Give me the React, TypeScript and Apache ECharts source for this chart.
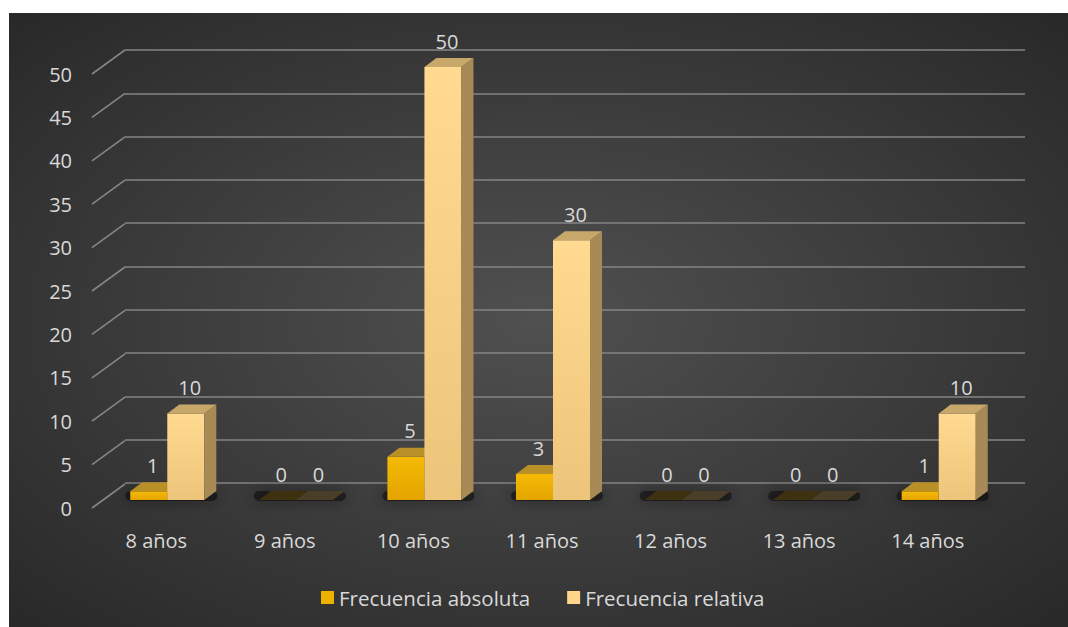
import React, { useEffect, useRef } from "react";
import * as echarts from "echarts";

const categories = ["8 años", "9 años", "10 años", "11 años", "12 años", "13 años", "14 años"];
const absoluta = [1, 0, 5, 3, 0, 0, 1];
const relativa = [10, 0, 50, 30, 0, 0, 10];
const yTicks = [0, 5, 10, 15, 20, 25, 30, 35, 40, 45, 50];
const seriesNames = ["Frecuencia absoluta", "Frecuencia relativa"];

const FONT = "'Open Sans', 'Noto Sans', sans-serif";
const TXT = "#d9d9d9";
const DEPTH_DX = 33;
const DEPTH_DY = 24;
const FRONT_DX = -22;
const FRONT_DY = 17;
const BAR_DX = 12;
const BAR_DY = 9;

function barRenderer(side: number, colors: any) {
  return (params: any, api: any) => {
    const i = api.value(0);
    const v = api.value(1);
    const base = api.coord([i, 0]);
    const top = api.coord([i, v]);
    const band = api.size([1, 0])[0];
    const bw = band * 0.288;
    const cx = base[0] + FRONT_DX;
    const x0 = side === 0 ? cx - bw : cx;
    const x1 = x0 + bw;
    const yb = base[1] + FRONT_DY;
    const yt = top[1] + FRONT_DY;
    const children: any[] = [];
    if (v === 0) {
      children.push({
        type: "polygon",
        shape: { points: [[x0, yb], [x1, yb], [x1 + BAR_DX, yb - BAR_DY], [x0 + BAR_DX, yb - BAR_DY]] },
        style: { fill: colors.zero },
      });
    } else {
      children.push({
        type: "rect",
        shape: { x: x0, y: yt, width: bw, height: yb - yt },
        style: {
          fill: new echarts.graphic.LinearGradient(0, 0, 0, 1, [
            { offset: 0, color: colors.frontTop },
            { offset: 1, color: colors.frontBottom },
          ]),
        },
      });
      children.push({
        type: "polygon",
        shape: { points: [[x1, yt], [x1 + BAR_DX, yt - BAR_DY], [x1 + BAR_DX, yb - BAR_DY], [x1, yb]] },
        style: { fill: colors.side },
      });
      children.push({
        type: "polygon",
        shape: { points: [[x0, yt], [x1, yt], [x1 + BAR_DX, yt - BAR_DY], [x0 + BAR_DX, yt - BAR_DY]] },
        style: { fill: colors.top },
      });
    }
    children.push({
      type: "text",
      x: (x0 + x1) / 2 + 4,
      y: yt - 26,
      style: {
        text: String(v),
        fill: TXT,
        font: `20px ${FONT}`,
        align: "center",
        verticalAlign: "middle",
      },
    });
    return { type: "group", children };
  };
}

export default function App() {
  const ref = useRef<HTMLDivElement>(null);
  useEffect(() => {
    if (!ref.current) return;
    const chart = echarts.init(ref.current, undefined, { renderer: "svg" });
    const absColors = { frontTop: "#F5BA05", frontBottom: "#E3A400", side: "#A67E10", top: "#B98F28", zero: "#3d3110" };
    const relColors = { frontTop: "#FFDA90", frontBottom: "#EDC57A", side: "#A88A56", top: "#C8A76B", zero: "#4b3e29" };
    chart.setOption({
      animation: false,
      textStyle: { fontFamily: FONT },
      graphic: {
        elements: [
          {
            type: "rect",
            z: -100,
            silent: true,
            shape: { x: 9, y: 13, width: 1059, height: 614 },
            style: {
              fill: new echarts.graphic.RadialGradient(0.5, 0.5, 0.75, [
                { offset: 0, color: "#505050" },
                { offset: 1, color: "#262626" },
              ]),
            },
          },
        ],
      },
      legend: {
        data: seriesNames,
        left: 316,
        top: 582,
        icon: "rect",
        itemWidth: 13,
        itemHeight: 13,
        itemGap: 37,
        textStyle: { color: TXT, fontSize: 20.5, fontFamily: FONT },
      },
      grid: [
        { left: 125, right: 43, top: 50, bottom: 144 },
        { left: 92, right: 76, top: 74, bottom: 119 },
      ],
      xAxis: [
        { type: "category", gridIndex: 0, data: categories, show: false },
        {
          type: "category",
          gridIndex: 1,
          data: categories,
          axisLine: { show: false },
          axisTick: { show: false },
          axisLabel: { color: TXT, fontSize: 20, margin: 22, fontFamily: FONT },
        },
      ],
      yAxis: [
        {
          type: "value",
          gridIndex: 0,
          min: 0,
          max: 50,
          interval: 5,
          axisLabel: { show: false },
          axisLine: { show: false },
          axisTick: { show: false },
          splitLine: { lineStyle: { color: "#858585", width: 1.6 } },
        },
        {
          type: "value",
          gridIndex: 1,
          min: 0,
          max: 50,
          interval: 5,
          axisLine: { show: false },
          axisTick: { show: false },
          splitLine: { show: false },
          axisLabel: { color: TXT, fontSize: 20, margin: 20, fontFamily: FONT },
        },
      ],
      series: [
        {
          type: "custom",
          name: "diag",
          xAxisIndex: 1,
          yAxisIndex: 1,
          silent: true,
          z: 1,
          data: yTicks.map((v) => [0, v]),
          renderItem: (params: any, api: any) => {
            const p = api.coord([0, api.value(1)]);
            const x0 = p[0] - api.size([1, 0])[0] / 2;
            return {
              type: "line",
              shape: { x1: x0, y1: p[1], x2: x0 + DEPTH_DX, y2: p[1] - DEPTH_DY },
              style: { stroke: "#858585", lineWidth: 1.6 },
            };
          },
        },
        {
          type: "custom",
          name: "shadow",
          xAxisIndex: 0,
          yAxisIndex: 0,
          silent: true,
          z: 1,
          data: categories.map((c, i) => [i, 0]),
          renderItem: (params: any, api: any) => {
            const p = api.coord([api.value(0), 0]);
            const cx = p[0] + FRONT_DX + 4;
            const y = p[1] + FRONT_DY;
            return {
              type: "rect",
              shape: { x: cx - 46, y: y - 9, width: 92, height: 10, r: 5 },
              style: { fill: "rgba(0,0,0,0.45)", shadowBlur: 16, shadowColor: "rgba(0,0,0,0.95)" },
            };
          },
        },
        {
          type: "custom",
          name: seriesNames[0],
          xAxisIndex: 0,
          yAxisIndex: 0,
          z: 3,
          itemStyle: { color: "#EFB100" },
          data: absoluta.map((v, i) => [i, v]),
          renderItem: barRenderer(0, absColors),
        },
        {
          type: "custom",
          name: seriesNames[1],
          xAxisIndex: 0,
          yAxisIndex: 0,
          z: 4,
          itemStyle: { color: "#FFD68A" },
          data: relativa.map((v, i) => [i, v]),
          renderItem: barRenderer(1, relColors),
        },
      ],
    });
    return () => chart.dispose();
  }, []);
  return (
    <div
      ref={ref}
      style={{ position: "absolute", left: 0, top: 0, width: 1068, height: 627, background: "#ffffff" }}
    />
  );
}
